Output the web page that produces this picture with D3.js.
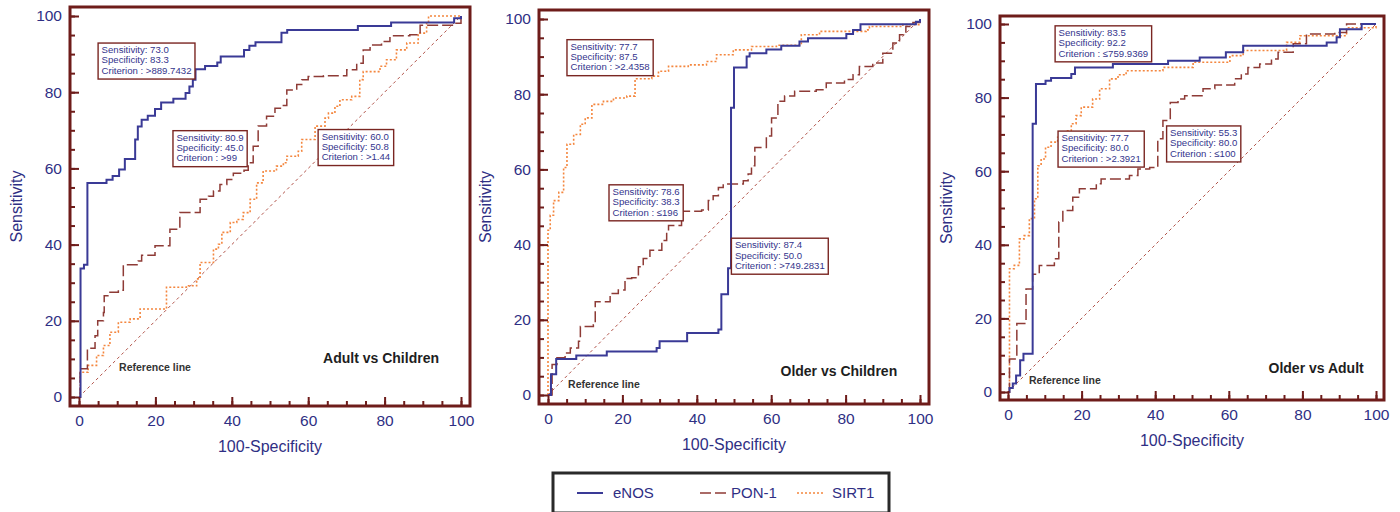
<!DOCTYPE html>
<html>
<head>
<meta charset="utf-8">
<script src="https://cdn.jsdelivr.net/npm/d3@7"></script>
<style>
  body { margin: 0; background: #fff; }
  svg { display: block; font-family: "Liberation Sans", Arial, sans-serif; }
</style>
</head>
<body>
<svg width="1400" height="512"></svg>
<script>
// ---- data ----
var majorTicks = [0, 20, 40, 60, 80, 100];
var seriesNames = ["eNOS", "PON-1", "SIRT1"];
var panelTitles = ["Adult vs Children", "Older vs Children", "Older vs Adult"];

// Adult vs Children
var acENOS = [[0,0],[0.4,33.7],[1.3,34.7],[2.2,56.2],[7.2,57.0],[8.8,58.0],[10.5,59.7],[12.0,62.5],[14.7,67.6],[15.4,71.0],[16.4,72.8],[18.0,73.8],[19.9,75.6],[21.5,77.3],[24.7,78.3],[27.9,79.8],[28.9,81.5],[29.8,83.3],[30.5,86.0],[33.0,86.9],[36.2,87.8],[37.1,89.4],[43.2,91.1],[44.6,92.2],[46.2,93.1],[53.0,95.6],[54.5,96.3],[73.0,97.4],[81.7,98.3],[98.2,99.4],[100,100]];
var acPON1 = [[0,0],[0.3,7.4],[2.2,12.8],[4.2,16.1],[4.9,20.0],[6.4,22.2],[6.6,26.6],[8.1,27.5],[10.3,28.0],[11.6,34.7],[15.5,35.7],[16.4,37.2],[19.9,39.7],[23.8,44.0],[26.4,48.4],[31.7,51.9],[33.9,52.7],[35.2,54.1],[36.9,55.8],[38.7,57.1],[40.4,58.7],[43.2,59.5],[44.3,61.5],[45.6,65.8],[46.9,71.1],[49.1,73.7],[51.3,75.8],[53.5,76.5],[54.4,80.6],[57.0,82.0],[58.3,83.3],[60.0,84.1],[64.0,84.3],[70.1,85.9],[72.7,87.6],[74.4,91.1],[76.2,92.4],[79.2,93.3],[81.4,94.8],[86.6,95.1],[89.3,97.6],[98.0,98.1],[100,100]];
var acSIRT1 = [[0,0],[0.3,6.5],[2.4,8.3],[4.6,10.9],[6.4,13.5],[8.1,17.0],[10.3,19.6],[13.4,20.5],[16.0,23.1],[22.9,28.8],[28.1,29.2],[30.8,31.0],[31.7,35.3],[35.2,38.8],[36.5,40.1],[37.4,43.2],[39.6,45.8],[41.3,46.6],[43.0,48.4],[44.8,51.9],[46.5,56.2],[48.2,59.3],[51.7,60.6],[53.5,61.5],[54.4,63.2],[57.4,64.5],[58.3,67.6],[61.8,71.1],[64.4,73.2],[65.3,74.5],[67.0,76.3],[68.3,78.0],[71.4,78.9],[73.5,83.3],[74.4,85.4],[78.8,86.8],[80.5,88.5],[83.1,91.1],[85.8,92.9],[88.8,95.5],[91.0,98.5],[91.5,100],[100,100]];

// Older vs Children
var ocENOS = [[0,0],[0.8,5.5],[2.2,9.6],[7.6,10.5],[15.8,11.6],[29.2,12.5],[30.0,14.3],[37.4,16.5],[45.8,17.4],[46.6,26.8],[48.4,33.7],[49.2,76.4],[50.0,87.1],[53.4,90.0],[54.2,90.9],[58.7,91.9],[62.7,92.9],[67.6,94.0],[69.9,94.9],[80.2,96.0],[82.0,97.1],[84.0,98.6],[98.9,99.3],[100,100]];
var ocPON1 = [[0,0],[1.1,8.1],[2.4,9.9],[4.6,11.2],[6.0,12.5],[8.2,14.3],[8.7,18.2],[12.2,18.7],[12.7,24.8],[16.7,27.0],[18.9,27.9],[20.7,31.0],[22.5,31.2],[24.3,34.1],[25.6,36.3],[27.4,38.5],[30.6,41.1],[31.9,43.3],[32.4,45.1],[35.9,48.9],[41.3,49.2],[43.1,51.7],[44.4,53.0],[45.8,55.2],[47.1,56.1],[52.5,57.0],[53.8,58.8],[54.7,61.0],[55.6,65.8],[58.7,68.9],[60.1,73.7],[61.8,78.1],[63.6,79.5],[66.3,80.8],[72.1,81.2],[74.8,83.0],[79.7,83.9],[82.0,85.2],[83.7,87.4],[87.3,88.3],[90.0,90.9],[92.7,93.6],[94.5,95.8],[96.2,98.0],[98.1,99.1],[100,100]];
var ocSIRT1 = [[0,0],[0,43.8],[0.6,47.8],[1.5,51.7],[2.9,53.9],[4.2,60.5],[5.1,66.7],[6.9,69.3],[8.7,72.0],[10.0,73.7],[11.8,77.3],[14.9,78.1],[17.6,79.0],[21.2,79.5],[23.4,84.1],[27.9,84.8],[29.7,86.1],[32.4,87.4],[37.7,87.8],[42.6,88.7],[45.3,90.5],[49.8,91.8],[54.7,92.7],[61.4,93.0],[68.1,95.8],[73.0,96.7],[85.5,97.1],[86.4,98.0],[95.4,98.5],[100,100]];

// Older vs Adult
var oaENOS = [[0,0],[0.4,1.1],[1.3,2.3],[2.2,4.5],[3.3,8.6],[4.2,10.4],[6.7,72.9],[7.6,83.7],[10.2,84.6],[11.7,85.3],[17.2,86.4],[18.2,88.2],[28.5,89.1],[43.5,90.0],[52.1,90.9],[59.2,92.3],[63.9,94.1],[86.6,95.0],[89.3,96.4],[90.2,98.6],[96.1,100],[100,100]];
var oaPON1 = [[0,0],[0.4,9.0],[2.4,18.6],[4.9,28.0],[6.7,32.0],[8.5,34.4],[12.6,36.2],[13.8,46.2],[14.9,49.3],[17.6,52.9],[19.4,55.2],[24.0,56.6],[25.3,57.9],[33.0,58.8],[35.3,60.6],[38.5,61.0],[40.7,68.8],[42.1,73.8],[44.1,78.7],[46.2,79.6],[48.0,80.5],[53.0,82.4],[56.2,83.4],[61.6,85.1],[63.4,86.4],[65.2,88.2],[68.4,89.1],[71.6,90.5],[73.4,92.3],[77.5,94.6],[81.1,97.3],[88.8,97.7],[92.0,100],[100,100]];
var oaSIRT1 = [[0,0],[0.4,33.5],[1.7,34.4],[3.1,41.6],[4.4,42.5],[5.8,47.1],[7.2,52.5],[8.1,61.5],[9.0,63.3],[10.2,66.5],[11.7,67.9],[13.5,69.2],[15.8,71.0],[17.2,72.9],[18.5,75.1],[19.9,77.4],[23.0,79.6],[24.9,82.4],[27.6,85.1],[29.9,86.2],[32.1,87.3],[42.1,88.2],[50.3,89.6],[60.3,91.4],[63.9,92.8],[75.7,95.0],[79.3,96.8],[92.0,99.0],[100,99.5]];

// cut-off boxes: [sensitivity, specificity, criterion], order eNOS, PON-1, SIRT1
var acNotes = [["73.0", "83.3", ">889.7432"], ["80.9", "45.0", ">99"], ["60.0", "50.8", ">1.44"]];
var ocNotes = [["87.4", "50.0", ">749.2831"], ["78.6", "38.3", "\u2264196"], ["77.7", "87.5", ">2.4358"]];
var oaNotes = [["83.5", "92.2", "\u2264759.9369"], ["55.3", "80.0", "\u2264100"], ["77.7", "80.0", ">2.3921"]];

// ---- layout ----
var colors = ["#3a3a96", "#8e3b36", "#f4863e"];
var dashes = [null, "11,4", "2,2"];
var widths = [2, 1.5, 1.6];
var frameColor = "#6e1c1a";
var navy = "#2f2f84";

var panels = [
  { frame: [70, 7, 470, 406], pad: 9, series: [acENOS, acPON1, acSIRT1], notes: acNotes,
    noteAt: [[5.0, 92.9], [24.6, 69.9], [62.6, 70.2]], titleAt: [63.9, 10.2], refAt: [10.5, 7.9] },
  { frame: [539, 10, 929, 404], pad: 9, series: [ocENOS, ocPON1, ocSIRT1], notes: ocNotes,
    noteAt: [[49.3, 41.7], [16.4, 55.9], [5.1, 94.5]], titleAt: [62.5, 6.3], refAt: [5.4, 2.9] },
  { frame: [1000, 16, 1384, 400], pad: 8, series: [oaENOS, oaPON1, oaSIRT1], notes: oaNotes,
    noteAt: [[12.8, 99.5], [43.1, 72.3], [13.6, 70.9]], titleAt: [70.8, 6.5], refAt: [5.7, 3.3] }
];

var svg = d3.select("svg");

panels.forEach(function (p, pi) {
  var f = p.frame;
  var x = d3.scaleLinear().domain([0, 100]).range([f[0] + p.pad, f[2] - p.pad]);
  var y = d3.scaleLinear().domain([0, 100]).range([f[3] - p.pad, f[1] + p.pad]);
  var g = svg.append("g");

  // reference diagonal
  g.append("line")
    .attr("x1", x(0)).attr("y1", y(0)).attr("x2", x(100)).attr("y2", y(100))
    .attr("stroke", "#b2544a").attr("stroke-width", 1).attr("stroke-dasharray", "3,3");

  var line = d3.line()
    .x(function (d) { return x(d[0]); })
    .y(function (d) { return y(d[1]); })
    .curve(d3.curveStepAfter);

  // draw SIRT1 first, eNOS on top
  [2, 1, 0].forEach(function (si) {
    g.append("path")
      .datum(p.series[si])
      .attr("d", line)
      .attr("fill", "none")
      .attr("stroke", colors[si])
      .attr("stroke-width", widths[si])
      .attr("stroke-dasharray", dashes[si]);
  });

  // frame
  g.append("rect")
    .attr("x", f[0]).attr("y", f[1])
    .attr("width", f[2] - f[0]).attr("height", f[3] - f[1])
    .attr("fill", "none").attr("stroke", frameColor).attr("stroke-width", 3);

  // axes (ticks point inward)
  var yAxis = g.append("g").attr("transform", "translate(" + f[0] + ",0)")
    .call(d3.axisLeft(y).tickValues(majorTicks).tickSize(-9).tickPadding(8));
  var yMinor = g.append("g").attr("transform", "translate(" + f[0] + ",0)")
    .call(d3.axisLeft(y).tickValues(d3.range(0, 101, 5)).tickSize(-5).tickFormat(""));
  var xAxis = g.append("g").attr("transform", "translate(0," + f[3] + ")")
    .call(d3.axisBottom(x).tickValues(majorTicks).tickSize(-9).tickPadding(9));
  var xMinor = g.append("g").attr("transform", "translate(0," + f[3] + ")")
    .call(d3.axisBottom(x).tickValues(d3.range(0, 101, 5)).tickSize(-5).tickFormat(""));

  [yAxis, yMinor, xAxis, xMinor].forEach(function (a) {
    a.select(".domain").remove();
    a.selectAll("line").attr("stroke", frameColor).attr("stroke-width", 2);
    a.selectAll("text").attr("fill", navy).style("font-size", "15.5px")
      .style("font-family", "'Liberation Sans', Arial, sans-serif");
  });

  // axis titles
  svg.append("text")
    .attr("transform", "translate(" + (f[0] - 54) + "," + ((f[1] + f[3]) / 2) + ") rotate(-90)")
    .attr("text-anchor", "middle").attr("dy", "0.35em")
    .attr("fill", navy).style("font-size", "16px").text("Sensitivity");
  svg.append("text")
    .attr("x", (f[0] + f[2]) / 2).attr("y", f[3] + 46)
    .attr("text-anchor", "middle")
    .attr("fill", navy).style("font-size", "16px").text("100-Specificity");

  // panel title and reference label
  g.append("text")
    .attr("x", x(p.titleAt[0])).attr("y", y(p.titleAt[1])).attr("dy", "0.35em")
    .attr("fill", "#1e1e1e").style("font-size", "14px").style("font-weight", "bold")
    .text(panelTitles[pi]);
  g.append("text")
    .attr("x", x(p.refAt[0])).attr("y", y(p.refAt[1])).attr("dy", "0.35em")
    .attr("fill", "#333").style("font-size", "10.5px").style("font-weight", "bold")
    .text("Reference line");

  // cut-off note boxes
  p.notes.forEach(function (n, ni) {
    var bx = x(p.noteAt[ni][0]), by = y(p.noteAt[ni][1]);
    var nb = g.append("g").attr("transform", "translate(" + bx + "," + by + ")");
    var rect = nb.append("rect").attr("fill", "#fff")
      .attr("stroke", "#7a2622").attr("stroke-width", 1.4);
    var lines = ["Sensitivity: " + n[0], "Specificity: " + n[1], "Criterion : " + n[2]];
    var maxW = 0;
    lines.forEach(function (t, li) {
      var tx = nb.append("text").attr("x", 3.5).attr("y", 10 + li * 10.4)
        .attr("fill", "#34348c").style("font-size", "9.6px").text(t);
      maxW = Math.max(maxW, tx.node().getComputedTextLength());
    });
    rect.attr("width", maxW + 7).attr("height", 36);
  });
});

// legend
var leg = svg.append("g");
leg.append("rect").attr("x", 553).attr("y", 473).attr("width", 336).attr("height", 40)
  .attr("fill", "#fff").attr("stroke", "#2a2a2a").attr("stroke-width", 3);
var legX = [577, 700, 797];
var legTx = [613, 731, 832];
seriesNames.forEach(function (name, i) {
  leg.append("line")
    .attr("x1", legX[i]).attr("x2", legX[i] + 26).attr("y1", 493).attr("y2", 493)
    .attr("stroke", colors[i]).attr("stroke-width", widths[i])
    .attr("stroke-dasharray", dashes[i]);
  leg.append("text").attr("x", legTx[i]).attr("y", 493).attr("dy", "0.35em")
    .attr("fill", navy).style("font-size", "15px").text(name);
});
</script>
</body>
</html>
